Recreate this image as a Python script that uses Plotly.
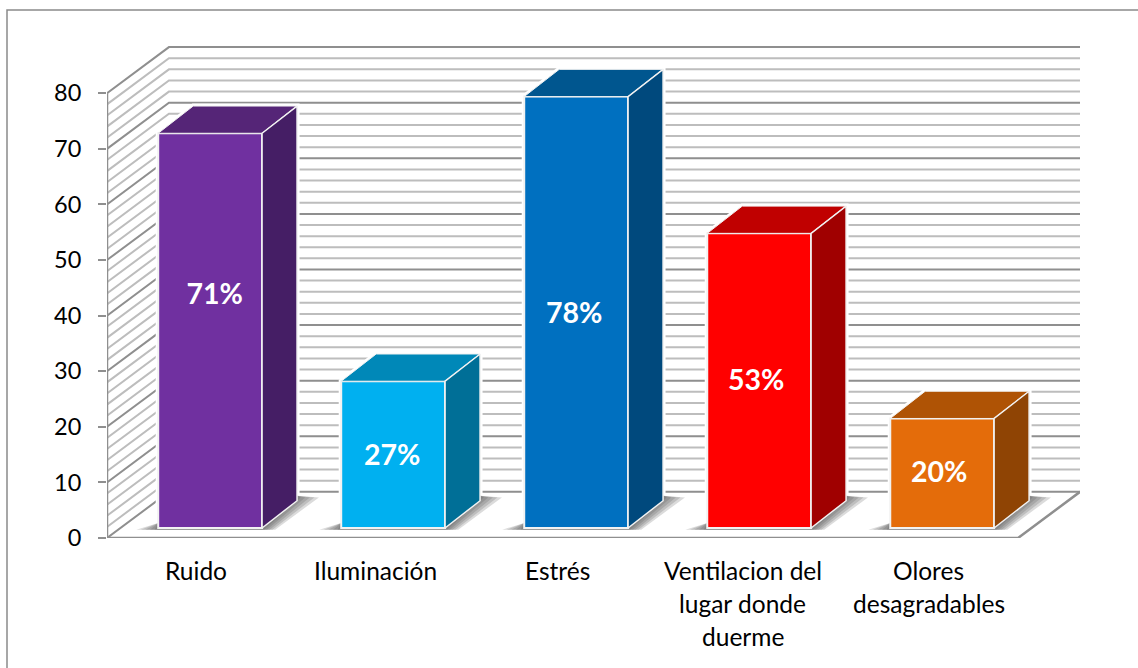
# barras 3d de molestias
import plotly.graph_objs as go

categorias = ['Ruido', 'Iluminación', 'Estrés', 'Ventilacion del', 'Olores']
lineas_extra = [[], [], [], ['lugar donde', 'duerme'], ['desagradables']]
valores = [71, 26.4, 77.6, 53, 19.7]
etiquetas = ['71%', '27%', '78%', '53%', '20%']
altura_etiqueta = [43.4, 14.4, 40.0, 27.9, 11.4]
ajuste_etiqueta = [0.025, -0.005, -0.011, -0.016, -0.016]
centro_categoria = [0.488, 1.476, 2.475, 3.49, 4.51]
color_frente = ['#7030A0', '#00B0F0', '#0070C0', '#FF0000', '#E46C0A']
color_techo = ['#552577', '#0088B8', '#00568F', '#C00000', '#AF5305']
color_lado = ['#451E65', '#006F97', '#00497D', '#A00000', '#8F4404']

# geometria en unidades de los ejes
N = len(categorias)
PROF_X = 0.34
PROF_Y = 8.3
ANCHO = 0.57
DESPL_X = 0.066
PASO = 1.0044
BASE = 1.8
BARRA_X = 0.192
BARRA_Y = 4.9
GRIS_MAYOR = '#8f8f8f'
GRIS_MENOR = '#bdbdbd'


def linea(xs, ys, color, ancho=2):
    path = 'M ' + ' L '.join(f'{x},{y}' for x, y in zip(xs, ys))
    return dict(type='path', path=path, xref='x', yref='y', layer='below',
                line=dict(color=color, width=ancho))


def poligono(xs, ys, relleno, opacidad=1.0, borde=None, ancho=0):
    path = 'M ' + ' L '.join(f'{x},{y}' for x, y in zip(xs, ys)) + ' Z'
    return dict(type='path', path=path, xref='x', yref='y', layer='below',
                fillcolor=relleno, opacity=opacidad,
                line=dict(color=borde or relleno, width=ancho))


shapes = []

# paredes: menores primero para que las mayores queden encima
for v in list(range(0, 82, 2)):
    if v % 10 != 0:
        shapes.append(linea([0, PROF_X, N + PROF_X], [v, v + PROF_Y, v + PROF_Y], GRIS_MENOR))
for v in range(0, 90, 10):
    shapes.append(linea([0, PROF_X, N + PROF_X], [v, v + PROF_Y, v + PROF_Y], GRIS_MAYOR))

# piso y eje vertical
shapes.append(linea([0, N, N + PROF_X], [0, 0, PROF_Y], GRIS_MAYOR, 2.5))
shapes.append(linea([0, 0], [0, 80], GRIS_MAYOR, 2.5))

fig = go.Figure()
centros = [0.5 + DESPL_X + i * PASO for i in range(N)]

for i in range(N):
    izq = centros[i] - ANCHO / 2
    der = izq + ANCHO
    arriba = BASE + valores[i]

    # halo blanco alrededor de la barra
    shapes.append(poligono(
        [izq, der, der + BARRA_X, der + BARRA_X, izq + BARRA_X, izq],
        [BASE, BASE, BASE + BARRA_Y, arriba + BARRA_Y, arriba + BARRA_Y, arriba],
        '#ffffff', 1.0, '#ffffff', 5))

    # sombra sobre el piso, varias capas para simular el difuminado
    for e in [0.12, 0.095, 0.07, 0.045, 0.02]:
        shapes.append(poligono(
            [izq - e, der + e * 0.6, der + BARRA_X + e, der + BARRA_X, izq],
            [BASE - 0.3, BASE - 0.3, BASE + BARRA_Y + 0.6, BASE + BARRA_Y + 0.9, BASE + 0.9],
            '#4a4a4a', 0.2))

    fig.add_trace(go.Scatter(
        x=[izq, der, der + BARRA_X, izq + BARRA_X, izq],
        y=[arriba, arriba, arriba + BARRA_Y, arriba + BARRA_Y, arriba],
        mode='lines', fill='toself', fillcolor=color_techo[i],
        line=dict(color='#f2f2f2', width=1), hoverinfo='skip', showlegend=False
    ))
    fig.add_trace(go.Scatter(
        x=[der, der + BARRA_X, der + BARRA_X, der, der],
        y=[BASE, BASE + BARRA_Y, arriba + BARRA_Y, arriba, BASE],
        mode='lines', fill='toself', fillcolor=color_lado[i],
        line=dict(color='#f2f2f2', width=1.5), hoverinfo='skip', showlegend=False
    ))

# caras frontales
fig.add_trace(go.Bar(
    x=centros,
    y=valores,
    base=[BASE] * N,
    width=ANCHO,
    marker=dict(color=color_frente, line=dict(color='#f2f2f2', width=2)),
    hoverinfo='skip',
    showlegend=False
))

fig.add_trace(go.Scatter(
    x=[c + a for c, a in zip(centros, ajuste_etiqueta)],
    y=altura_etiqueta,
    mode='text',
    text=etiquetas,
    textposition='middle center',
    textfont=dict(family='Lato', size=28.5, color='white', weight='bold'),
    hoverinfo='skip',
    showlegend=False
))

# etiquetas de categoria, una anotacion por renglon
annotations = []
for i in range(N):
    for n, texto in enumerate([categorias[i]] + lineas_extra[i]):
        annotations.append(dict(
            x=centro_categoria[i], y=0, xref='x', yref='y', text=texto, showarrow=False,
            yshift=-32 - 33 * n, font=dict(family='Lato', size=24.5, color='black')
        ))

# marco exterior, en fracciones del area de trazado
PX_ANCHO = 973
PX_ALTO = 491
shapes.append(dict(
    type='path', xref='paper', yref='paper',
    path=f'M {(7 - 107) / PX_ANCHO},{(537 - 668) / PX_ALTO} '
         f'L {(7 - 107) / PX_ANCHO},{(537 - 10) / PX_ALTO} '
         f'L {(1138 - 107) / PX_ANCHO},{(537 - 10) / PX_ALTO}',
    line=dict(color='#8a8a8a', width=1.5), layer='below'
))

fig.update_layout(
    width=1138,
    height=668,
    margin=dict(l=107, r=58, t=46, b=130),
    paper_bgcolor='white',
    plot_bgcolor='white',
    shapes=shapes,
    annotations=annotations,
    showlegend=False,
    xaxis=dict(range=[0, N + PROF_X], showgrid=False, zeroline=False,
               showticklabels=False, ticks='', showline=False),
    yaxis=dict(range=[0, 80 + PROF_Y + 0.2], showgrid=False, zeroline=False, showline=False,
               tickmode='array', tickvals=list(range(0, 90, 10)),
               ticks='outside', ticklen=8, tickwidth=2, tickcolor=GRIS_MAYOR,
               ticklabelstandoff=12,
               tickfont=dict(family='Lato', size=23.5, color='black'))
)

fig.write_html("out.html", config=dict(displayModeBar=False),
               post_script="document.body.style.margin='0';")
